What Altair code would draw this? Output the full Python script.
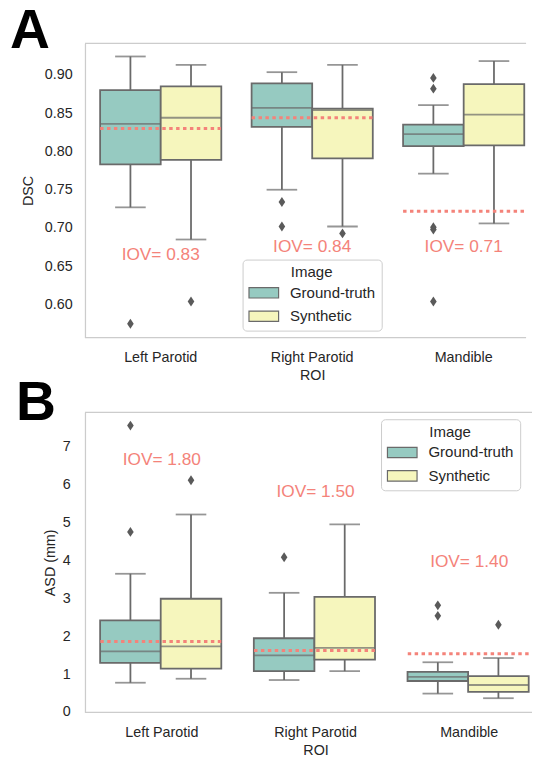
import altair as alt
import pandas as pd

rois = ["Left Parotid", "Right Parotid", "Mandible"]
images = ["Ground-truth", "Synthetic"]
colors = ["#96cac1", "#f6f6bd"]

# order of boxes: (LP, GT), (LP, Syn), (RP, GT), (RP, Syn), (M, GT), (M, Syn)
box_roi = ["Left Parotid", "Left Parotid", "Right Parotid", "Right Parotid", "Mandible", "Mandible"]
box_img = ["Ground-truth", "Synthetic"] * 3

# Panel A: DSC
dsc_whislo = [0.727, 0.685, 0.750, 0.702, 0.771, 0.706]
dsc_q1 = [0.783, 0.789, 0.832, 0.791, 0.807, 0.808]
dsc_med = [0.836, 0.844, 0.857, 0.854, 0.8225, 0.848]
dsc_q3 = [0.880, 0.885, 0.889, 0.856, 0.835, 0.888]
dsc_whishi = [0.924, 0.913, 0.9035, 0.913, 0.8605, 0.918]
dsc_out_roi = ["Left Parotid", "Left Parotid", "Right Parotid", "Right Parotid", "Right Parotid",
               "Mandible", "Mandible", "Mandible", "Mandible", "Mandible"]
dsc_out_img = ["Ground-truth", "Synthetic", "Ground-truth", "Ground-truth", "Synthetic",
               "Ground-truth", "Ground-truth", "Ground-truth", "Ground-truth", "Ground-truth"]
dsc_out_val = [0.575, 0.604, 0.734, 0.702, 0.693, 0.896, 0.882, 0.701, 0.698, 0.604]
dsc_iov = [0.830, 0.844, 0.722]
dsc_iov_text = ["IOV= 0.83", "IOV= 0.84", "IOV= 0.71"]
dsc_iov_texty = [0.665, 0.675, 0.675]
dsc_ticks = [0.60, 0.65, 0.70, 0.75, 0.80, 0.85, 0.90]

# Panel B: ASD (mm)
asd_whislo = [0.772, 0.877, 0.843, 1.077, 0.485, 0.363]
asd_q1 = [1.294, 1.145, 1.077, 1.380, 0.817, 0.530]
asd_med = [1.599, 1.729, 1.494, 1.693, 0.929, 0.712]
asd_q3 = [2.415, 2.989, 1.946, 3.041, 1.059, 0.947]
asd_whishi = [3.648, 5.213, 3.145, 4.952, 1.312, 1.424]
asd_out_roi = ["Left Parotid", "Left Parotid", "Left Parotid", "Right Parotid",
               "Mandible", "Mandible", "Mandible"]
asd_out_img = ["Ground-truth", "Ground-truth", "Synthetic", "Ground-truth",
               "Ground-truth", "Ground-truth", "Synthetic"]
asd_out_val = [7.56, 4.754, 6.118, 4.084, 2.814, 2.538, 2.303]
asd_iov = [1.86, 1.625, 1.536]
asd_iov_text = ["IOV= 1.80", "IOV= 1.50", "IOV= 1.40"]
asd_iov_texty = [6.66, 5.81, 3.97]
asd_ticks = [0, 1, 2, 3, 4, 5, 6, 7]

GRAY = "#6a6a6a"
FRAME = "#cccccc"
SALMON = "#f4837a"
FONT = "Liberation Sans"
RECT = "M-2,-0.7L2,-0.7L2,0.7L-2,0.7Z"
DIAMOND = "M0,-1L0.67,0L0,1L-0.67,0Z"


def panel(whislo, q1, med, q3, whishi, out_roi, out_img, out_val,
          iov, iov_text, iov_texty, ticks, domain, fmt, ytitle,
          width, step, height, letter, letter_x, letter_y,
          lab_pad, title_pad, leg_x, leg_y):
    box = pd.DataFrame({"ROI": box_roi, "Image": box_img, "lo": whislo, "q1": q1,
                        "med": med, "q3": q3, "hi": whishi})
    outl = pd.DataFrame({"ROI": out_roi, "Image": out_img, "v": out_val})
    iovd = pd.DataFrame({"ROI": rois, "iov": iov, "t": iov_text, "ty": iov_texty})

    # the visible plot is narrower than three full category steps (right side cut off)
    p_inner = 3 - width / step
    bw = step * (1 - p_inner)
    spare = bw - 0.8 * step
    xs = alt.Scale(domain=rois, paddingInner=p_inner, paddingOuter=0, align=0, round=False)
    xo = alt.XOffset("Image:N", scale=alt.Scale(domain=images, paddingInner=0,
                                                paddingOuter=spare / (0.8 * step),
                                                align=0.1 * step / spare, round=False))
    xax = alt.Axis(labelAngle=0, title="ROI", labelPadding=13, titlePadding=5.5,
                   labelOffset=(step - bw) / 2, titleX=1.5 * step)
    X = alt.X("ROI:N", scale=xs, axis=xax, sort=rois)
    ys = alt.Scale(domain=domain, nice=False, zero=False)
    yax = alt.Axis(values=ticks, format=fmt, title=ytitle, labelPadding=lab_pad,
                   titlePadding=title_pad)

    base = alt.Chart(box)
    whisk = base.mark_rule(color=GRAY, strokeWidth=1.8).encode(
        x=X, xOffset=xo, y=alt.Y("lo:Q", scale=ys, axis=yax), y2="hi:Q")
    caps_lo = base.mark_tick(color=GRAY, size=31, thickness=1.8).encode(
        x=X, xOffset=xo, y=alt.Y("lo:Q", scale=ys))
    caps_hi = base.mark_tick(color=GRAY, size=31, thickness=1.8).encode(
        x=X, xOffset=xo, y=alt.Y("hi:Q", scale=ys))
    boxes = base.mark_bar(stroke=GRAY, strokeWidth=1.8).encode(
        x=X, xOffset=xo, y=alt.Y("q1:Q", scale=ys), y2="q3:Q",
        color=alt.Color("Image:N", scale=alt.Scale(domain=images, range=colors),
                        legend=alt.Legend(orient="none", legendX=leg_x, legendY=leg_y,
                                          title="Image", titleAnchor="middle",
                                          fillColor="white", strokeColor=FRAME,
                                          cornerRadius=4, padding=6,
                                          symbolType=RECT, symbolSize=225,
                                          symbolOffset=7,
                                          symbolStrokeColor=GRAY, symbolStrokeWidth=1.2,
                                          symbolOpacity=1,
                                          labelFontSize=15.2, titleFontSize=15.2,
                                          titleFontWeight="normal", labelOffset=18,
                                          rowPadding=6.7, titlePadding=4,
                                          labelColor="#262626", titleColor="#262626")))
    meds = base.mark_tick(color=GRAY, size=61, thickness=1.8).encode(
        x=X, xOffset=xo, y=alt.Y("med:Q", scale=ys))
    pts = alt.Chart(outl).mark_point(shape=DIAMOND, filled=True, color="#5a5a5a",
                                     size=100, opacity=1).encode(
        x=X, xOffset=xo, y=alt.Y("v:Q", scale=ys))
    iline = alt.Chart(iovd).mark_rule(color=SALMON, strokeWidth=3, strokeDash=[3.5, 3.5]).encode(
        x=alt.X("ROI:N", scale=xs, bandPosition=0.1 * step / bw, sort=rois),
        x2=alt.X2("ROI:N", bandPosition=0.9 * step / bw),
        y=alt.Y("iov:Q", scale=ys))
    itext = alt.Chart(iovd).mark_text(color=SALMON, fontSize=17.5, baseline="middle",
                                      align="center").encode(
        x=alt.X("ROI:N", scale=xs, bandPosition=0.5 * step / bw, sort=rois),
        y=alt.Y("ty:Q", scale=ys), text="t:N")

    deco = alt.Chart(pd.DataFrame({"label": [letter]}))
    frame_top = deco.mark_rule(color=FRAME, strokeWidth=1.25).encode(
        x=alt.value(0), x2=alt.value(width), y=alt.value(0))
    frame_bot = deco.mark_rule(color=FRAME, strokeWidth=1.25).encode(
        x=alt.value(0), x2=alt.value(width), y=alt.value(height))
    letter_mark = deco.mark_text(fontSize=56, fontWeight="bold", color="black", align="left",
                                 baseline="alphabetic", font=FONT).encode(
        text="label:N", x=alt.value(letter_x), y=alt.value(letter_y))

    return alt.layer(frame_top, frame_bot, whisk, caps_lo, caps_hi, boxes, meds, pts,
                     iline, itext, letter_mark).properties(width=width, height=height)


chA = panel(dsc_whislo, dsc_q1, dsc_med, dsc_q3, dsc_whishi, dsc_out_roi, dsc_out_img,
            dsc_out_val, dsc_iov, dsc_iov_text, dsc_iov_texty, dsc_ticks, [0.557, 0.941],
            ".2f", "DSC", 447, 153.5, 298, "A", -76, 4.6, 13, 9, 159.7, 219)
chB = panel(asd_whislo, asd_q1, asd_med, asd_q3, asd_whishi, asd_out_roi, asd_out_img,
            asd_out_val, asd_iov, asd_iov_text, asd_iov_texty, asd_ticks, [-0.01, 7.91],
            "d", "ASD (mm)", 453, 155.75, 304, "B", -70, 7.7, 15, 5, 300, 7)

chart = alt.concat(chA, chB, columns=1, spacing=-8.2, align="none").resolve_scale(
    color="independent").resolve_legend(color="independent").properties(
    padding={"left": 2, "top": -10.1, "right": 0, "bottom": 0}).configure(
    font=FONT).configure_view(strokeOpacity=0).configure_axis(
    domain=False, ticks=False, tickSize=0, grid=False, labelFontSize=14.5, titleFontSize=14.5,
    labelColor="#262626", titleColor="#262626", titleFontWeight="normal", labelFont=FONT,
    titleFont=FONT).configure_axisY(domain=True, domainColor=FRAME, domainWidth=1.25)

chart.save("out.html", embed_options={"renderer": "svg", "actions": False})
